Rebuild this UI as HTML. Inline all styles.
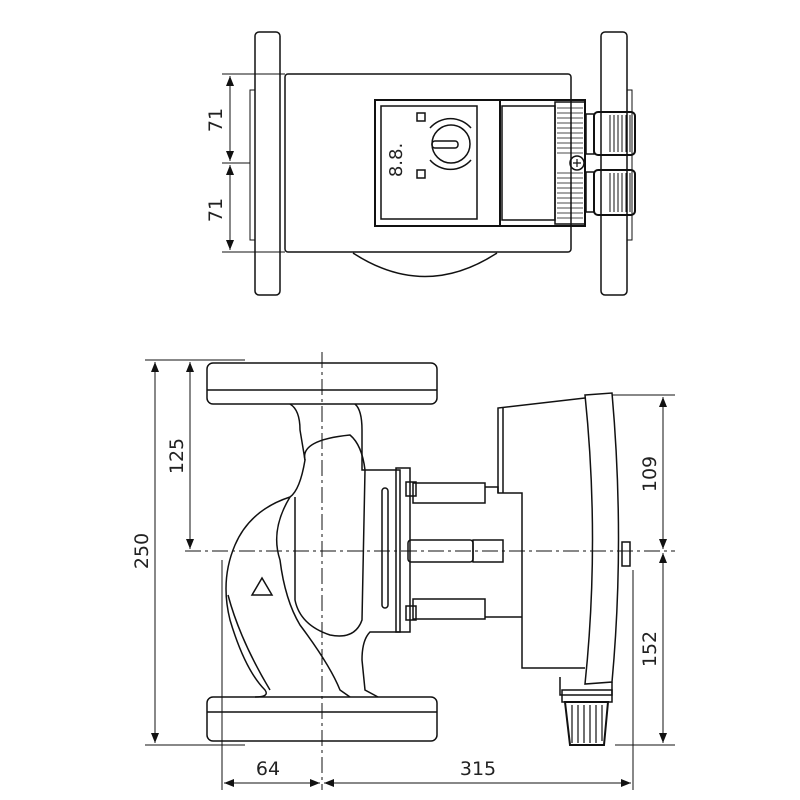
<!DOCTYPE html>
<html><head><meta charset="utf-8"><style>
html,body{margin:0;padding:0;background:#fff}
svg{display:block}
text{font-family:"DejaVu Sans","Liberation Sans",sans-serif;font-size:19px;fill:#222}
</style></head><body>
<svg width="800" height="800" viewBox="0 0 800 800" xmlns="http://www.w3.org/2000/svg">
<defs>
<marker id="a" markerWidth="10" markerHeight="8" refX="10" refY="4" orient="auto-start-reverse" markerUnits="userSpaceOnUse"><path d="M0,0 L10,4 L0,8 z" fill="#111"/></marker>
</defs>
<g fill="none" stroke="#111" stroke-width="1.5">
<!-- TOP VIEW -->
<rect x="255" y="32" width="25" height="263" rx="4"/>
<rect x="601" y="32" width="26" height="263" rx="4"/>
<path d="M255 90 h-5 v150 h5 M627 90 h5 v150 h-5" stroke-width="1"/>
<rect x="285" y="74" width="286" height="178" rx="3"/>
<path d="M353 253 Q425 300 497 253"/>
<rect x="375" y="100" width="210" height="126" stroke-width="2"/>
<rect x="381" y="106" width="96" height="113"/>
<line x1="500" y1="100" x2="500" y2="226" stroke-width="2"/>
<rect x="502" y="106" width="53" height="114"/>
<rect x="555" y="102" width="30" height="122"/>
<g stroke-width="0.8">
<path d="M557 108h26M557 113h26M557 118h26M557 123h26M557 128h26M557 133h26M557 138h26M557 143h26M557 148h26M557 153h26M557 173h26M557 178h26M557 183h26M557 188h26M557 193h26M557 198h26M557 203h26M557 208h26M557 213h26M557 218h26"/>
</g>
<rect x="586" y="114" width="8" height="40"/><rect x="586" y="172" width="8" height="40"/>
<rect x="594" y="112" width="41" height="43" rx="4" stroke-width="2"/>
<rect x="594" y="170" width="41" height="45" rx="4" stroke-width="2"/>
<path d="M610 115v37M614 115v37M618 115v37M622 115v37M626 115v37M630 115v37M610 173v39M614 173v39M618 173v39M622 173v39M626 173v39M630 173v39" stroke-width="1"/>
<circle cx="577" cy="163" r="7"/>
<path d="M573 163h8M577 159v8" stroke-width="1.2"/>
<circle cx="451" cy="144" r="19"/>
<path d="M430 128 A27 27 0 0 1 471 128 M430 160 A27 27 0 0 0 471 160"/>
<rect x="432" y="141" width="26" height="7" rx="3"/>
<rect x="417" y="113" width="8" height="8"/><rect x="417" y="170" width="8" height="8"/>
<!-- dims top -->
<g stroke-width="1">
<line x1="222" y1="74" x2="285" y2="74"/><line x1="222" y1="163" x2="250" y2="163"/><line x1="222" y1="252" x2="285" y2="252"/>
<line x1="230" y1="76" x2="230" y2="161" marker-start="url(#a)" marker-end="url(#a)"/>
<line x1="230" y1="165" x2="230" y2="250" marker-start="url(#a)" marker-end="url(#a)"/>
</g>
<!-- FRONT VIEW -->
<rect x="207" y="363" width="230" height="41" rx="6"/>
<line x1="207" y1="390" x2="437" y2="390"/>
<rect x="207" y="697" width="230" height="44" rx="6"/>
<line x1="207" y1="712" x2="437" y2="712"/>
<path d="M290 404 Q300 410 300 430 L305 460 Q300 490 290 497 Q250 510 235 545 Q220 580 230 620 Q245 670 265 690 Q270 697 255 697"/>
<path d="M355 404 Q362 410 362 430 L362 470 L400 470 L400 632 L370 632 Q362 640 362 660 L365 690 L378 697"/>
<path d="M305 460 Q300 440 350 435 Q362 445 365 470 L362 620 Q355 640 330 635 Q300 625 295 600 L295 497"/>
<path d="M290 497 Q270 530 280 560 Q285 600 300 625 Q330 665 340 690 L350 697"/>
<path d="M228 595 Q240 640 270 690"/>
<path d="M252 595 L262 578 L272 595 Z"/>
<rect x="396" y="468" width="14" height="164"/>
<rect x="382" y="488" width="6" height="120" rx="3"/>
<rect x="406" y="482" width="10" height="14"/><rect x="406" y="606" width="10" height="14"/>
<rect x="413" y="483" width="72" height="20"/>
<rect x="413" y="599" width="72" height="20"/>
<rect x="408" y="540" width="65" height="22" rx="3"/>
<rect x="473" y="540" width="30" height="22"/>
<path d="M485 487 L498 487 L498 493 L522 493 L522 668 L585 668"/>
<path d="M485 617 L522 617"/>
<path d="M498 493 L498 408 L585 398"/>
<path d="M503 408 L503 493"/>
<path d="M585 395 L612 393 Q625 540 612 682 L585 684 Q600 540 585 395 Z"/>
<path d="M560 677 L560 695 L612 695 L612 682"/>
<rect x="622" y="542" width="8" height="24"/>
<rect x="562" y="690" width="50" height="12"/>
<path d="M565 702 L608 702 L604 745 L570 745 Z" stroke-width="2"/>
<path d="M572 705v38M578 705v38M584 705v38M590 705v38M596 705v38M602 705v36" stroke-width="1.2"/>
</g>
<!-- centerlines -->
<g stroke="#111" stroke-width="1" stroke-dasharray="16,4,3,4" fill="none">
<line x1="322" y1="352" x2="322" y2="790"/>
<line x1="185" y1="551" x2="675" y2="551"/>
</g>
<!-- front dims -->
<g stroke="#111" stroke-width="1" fill="none">
<line x1="145" y1="360" x2="245" y2="360"/>
<line x1="145" y1="745" x2="245" y2="745"/>
<line x1="155" y1="362" x2="155" y2="743" marker-start="url(#a)" marker-end="url(#a)"/>
<line x1="190" y1="362" x2="190" y2="549" marker-start="url(#a)" marker-end="url(#a)"/>
<line x1="612" y1="395" x2="675" y2="395"/>
<line x1="615" y1="745" x2="675" y2="745"/>
<line x1="663" y1="397" x2="663" y2="549" marker-start="url(#a)" marker-end="url(#a)"/>
<line x1="663" y1="553" x2="663" y2="743" marker-start="url(#a)" marker-end="url(#a)"/>
<line x1="222" y1="560" x2="222" y2="790"/>
<line x1="633" y1="570" x2="633" y2="790"/>
<line x1="224" y1="783" x2="320" y2="783" marker-start="url(#a)" marker-end="url(#a)"/>
<line x1="324" y1="783" x2="631" y2="783" marker-start="url(#a)" marker-end="url(#a)"/>
</g>
<text transform="translate(222,120) rotate(-90)" text-anchor="middle">71</text>
<text transform="translate(222,210) rotate(-90)" text-anchor="middle">71</text>
<text transform="translate(148,551) rotate(-90)" text-anchor="middle">250</text>
<text transform="translate(183,456) rotate(-90)" text-anchor="middle">125</text>
<text transform="translate(656,474) rotate(-90)" text-anchor="middle">109</text>
<text transform="translate(656,649) rotate(-90)" text-anchor="middle">152</text>
<text x="268" y="775" text-anchor="middle">64</text>
<text x="478" y="775" text-anchor="middle">315</text>
<text transform="translate(402,160) rotate(-90)" text-anchor="middle" style="font-size:18px">8.8.</text>
</svg>
</body></html>
